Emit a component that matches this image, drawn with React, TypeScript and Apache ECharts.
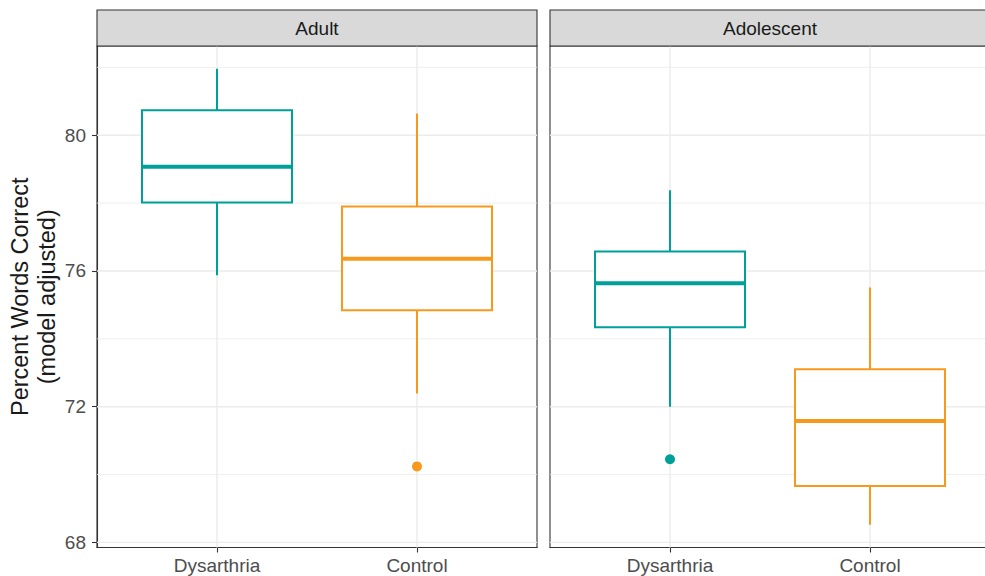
import React, { useEffect, useRef } from "react";
import * as echarts from "echarts";

const panels = ["Adult", "Adolescent"];
const groups = ["Dysarthria", "Control"];
const groupX = [1, 2];
// each box: [min, q1, median, q3, max]
const adultBoxes = [
  [75.87, 78.02, 79.07, 80.74, 81.96],
  [72.39, 74.84, 76.36, 77.9, 80.64],
];
const adolescentBoxes = [
  [72.0, 74.34, 75.64, 76.57, 78.38],
  [68.52, 69.66, 71.58, 73.1, 75.51],
];
const adultOutliers = [[2, 70.24]];
const adolescentOutliers = [[1, 70.45]];
const yMajor = [68, 72, 76, 80];
const yMinor = [70, 74, 78, 82];
const yMin = 67.85;
const yMax = 82.63;
const colors = ["#00A09A", "#F7991D"];

const FONT = "'Liberation Sans', Arial, Helvetica, sans-serif";

export default function App() {
  const ref = useRef<HTMLDivElement>(null);

  useEffect(() => {
    if (!ref.current) return;
    const chart = echarts.init(ref.current, undefined, { renderer: "svg" });

    const boxesByPanel = [adultBoxes, adolescentBoxes];
    const outliersByPanel = [adultOutliers, adolescentOutliers];
    const gridLeft = [97, 550];
    const gridTop = 46;
    const gridW = 440;
    const gridH = 501.5;

    const grids = gridLeft.map((l) => ({
      left: l,
      top: gridTop,
      width: gridW,
      height: gridH,
      show: true,
      backgroundColor: "#ffffff",
      borderColor: "#333333",
      borderWidth: 1.1,
      containLabel: false,
      outerBoundsMode: "none",
    }));

    const xAxes = gridLeft.map((_, i) => ({
      type: "value",
      gridIndex: i,
      min: 0.4,
      max: 2.6,
      axisLine: { show: true, lineStyle: { color: "#333333", width: 1.1 } },
      axisTick: {
        show: true,
        customValues: groupX,
        length: 5,
        lineStyle: { color: "#333333", width: 1.1 },
      },
      axisLabel: {
        show: true,
        customValues: groupX,
        formatter: (v: number) => {
          const k = groupX.indexOf(Math.round(v));
          return k >= 0 ? groups[k] : "";
        },
        color: "#4D4D4D",
        fontSize: 19,
        fontFamily: FONT,
        margin: 8,
      },
      splitLine: { show: false },
    }));

    const yAxes = gridLeft.map((_, i) => ({
      type: "value",
      gridIndex: i,
      min: yMin,
      max: yMax,
      axisLine: { show: i === 0, lineStyle: { color: "#333333", width: 1.1 } },
      axisTick: {
        show: i === 0,
        customValues: yMajor,
        length: 5,
        lineStyle: { color: "#333333", width: 1.1 },
      },
      axisLabel: {
        show: i === 0,
        customValues: yMajor,
        color: "#4D4D4D",
        fontSize: 19,
        fontFamily: FONT,
        margin: 11,
      },
      splitLine: { show: false },
      name: i === 0 ? "Percent Words Correct\n(model adjusted)" : "",
      nameLocation: "middle",
      nameGap: 36,
      nameTextStyle: {
        fontSize: 23.5,
        color: "#1A1A1A",
        fontFamily: FONT,
        lineHeight: 27,
      },
    }));

    const series: any[] = [];
    gridLeft.forEach((_, i) => {
      const gridData: number[][] = [
        ...yMinor.map((v) => [1, v, 1]),
        ...yMajor.map((v) => [1, v, 0]),
        ...groupX.map((x) => [x, 75, 2]),
      ];
      series.push({
        type: "custom",
        xAxisIndex: i,
        yAxisIndex: i,
        z: 1,
        silent: true,
        data: gridData,
        renderItem: (params: any, api: any) => {
          const cs = params.coordSys;
          const kind = api.value(2);
          if (kind === 2) {
            const p = api.coord([api.value(0), 75]);
            return {
              type: "line",
              shape: { x1: p[0], y1: cs.y, x2: p[0], y2: cs.y + cs.height },
              style: { stroke: "#EBEBEB", lineWidth: 1.4 },
            };
          }
          const p = api.coord([1, api.value(1)]);
          return {
            type: "line",
            shape: { x1: cs.x, y1: p[1], x2: cs.x + cs.width, y2: p[1] },
            style: { stroke: "#EBEBEB", lineWidth: kind === 1 ? 0.8 : 1.4 },
          };
        },
      });

      series.push({
        type: "custom",
        xAxisIndex: i,
        yAxisIndex: i,
        z: 3,
        silent: true,
        encode: { x: 0, y: [1, 2, 3, 4, 5] },
        data: boxesByPanel[i].map((b, k) => [groupX[k], ...b]),
        renderItem: (params: any, api: any) => {
          const x = api.value(0);
          const color = colors[groupX.indexOf(x)];
          const lo = api.coord([x, api.value(1)]);
          const q1 = api.coord([x, api.value(2)]);
          const med = api.coord([x, api.value(3)]);
          const q3 = api.coord([x, api.value(4)]);
          const hi = api.coord([x, api.value(5)]);
          const half = api.size([0.75, 0])[0] / 2;
          const lw = 2;
          return {
            type: "group",
            children: [
              {
                type: "line",
                shape: { x1: hi[0], y1: hi[1], x2: q3[0], y2: q3[1] },
                style: { stroke: color, lineWidth: lw },
              },
              {
                type: "line",
                shape: { x1: q1[0], y1: q1[1], x2: lo[0], y2: lo[1] },
                style: { stroke: color, lineWidth: lw },
              },
              {
                type: "rect",
                shape: { x: q3[0] - half, y: q3[1], width: half * 2, height: q1[1] - q3[1] },
                style: { fill: "#ffffff", stroke: color, lineWidth: lw },
              },
              {
                type: "line",
                shape: { x1: med[0] - half, y1: med[1], x2: med[0] + half, y2: med[1] },
                style: { stroke: color, lineWidth: 4 },
              },
            ],
          };
        },
      });

      series.push({
        type: "scatter",
        xAxisIndex: i,
        yAxisIndex: i,
        z: 4,
        silent: true,
        symbol: "circle",
        symbolSize: 10,
        data: outliersByPanel[i].map((p) => ({
          value: p,
          itemStyle: { color: colors[groupX.indexOf(p[0])], opacity: 1 },
        })),
      });
    });

    const graphic: any[] = [];
    gridLeft.forEach((l, i) => {
      graphic.push({
        type: "rect",
        shape: { x: l, y: 10, width: gridW, height: 36 },
        style: { fill: "#D9D9D9", stroke: "#333333", lineWidth: 1.1 },
        z: 10,
      });
      graphic.push({
        type: "text",
        x: l + gridW / 2,
        y: 28.5,
        style: {
          text: panels[i],
          align: "center",
          verticalAlign: "middle",
          textAlign: "center",
          textVerticalAlign: "middle",
          fontSize: 19,
          fontFamily: FONT,
          fill: "#1A1A1A",
        },
        z: 11,
      });
    });

    chart.setOption({
      animation: false,
      backgroundColor: "#ffffff",
      textStyle: { fontFamily: FONT },
      grid: grids,
      xAxis: xAxes,
      yAxis: yAxes,
      series,
      graphic,
    });

    return () => chart.dispose();
  }, []);

  return (
    <div
      ref={ref}
      style={{ position: "fixed", left: 0, top: 0, width: 985, height: 576 }}
    />
  );
}
